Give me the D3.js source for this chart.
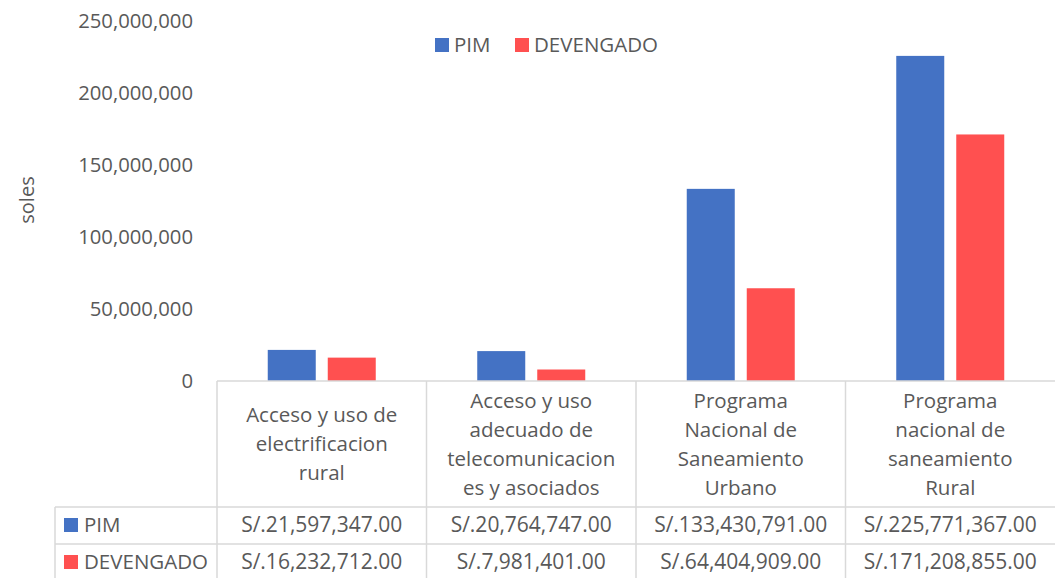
<!DOCTYPE html>
<html lang="es">
<head>
    <meta charset="UTF-8">
    <title>PIM vs DEVENGADO</title>
    <script src="https://d3js.org/d3.v7.min.js"></script>
    <style>
        body { margin: 0; background: #fff; }
        text { font-family: "Open Sans", sans-serif; fill: #595959; }
    </style>
</head>
<body>
    <div id="chart"></div>

    <script>
        const categories = [
            ["Acceso y uso de", "electrificacion", "rural"],
            ["Acceso y uso", "adecuado de", "telecomunicacion", "es y asociados"],
            ["Programa", "Nacional de", "Saneamiento", "Urbano"],
            ["Programa", "nacional de", "saneamiento", "Rural"]
        ];
        const series = ["PIM", "DEVENGADO"];
        const colors = ["#4472c4", "#ff5050"];
        const pim = [21597347, 20764747, 133430791, 225771367];
        const devengado = [16232712, 7981401, 64404909, 171208855];
        const yTicks = [0, 50000000, 100000000, 150000000, 200000000, 250000000];

        const width = 1058, height = 578;
        const left = 217, right = 1055, zeroY = 381;
        const gridColor = "#d9d9d9";

        const svg = d3.select("#chart").append("svg")
            .attr("width", width)
            .attr("height", height);

        const x = d3.scaleBand()
            .domain(d3.range(categories.length))
            .range([left, right]);

        const y = d3.scaleLinear()
            .domain([0, 250000000])
            .range([zeroY, 21]);

        const values = [pim, devengado];

        // y tick labels (no gridlines in the reference)
        svg.append("g")
            .selectAll("text")
            .data(yTicks)
            .enter().append("text")
            .attr("x", 193)
            .attr("y", d => y(d))
            .attr("dy", "0.35em")
            .attr("text-anchor", "end")
            .attr("font-size", 20.3)
            .text(d => d3.format(",")(d));

        svg.append("text")
            .attr("transform", "translate(27,200) rotate(-90)")
            .attr("text-anchor", "middle")
            .attr("dy", "0.35em")
            .attr("font-size", 20)
            .text("soles");

        // bars
        const x1 = d3.scaleBand()
            .domain(series)
            .range([-54, 54])
            .paddingInner(0.2);

        categories.forEach((c, i) => {
            const cx = x(i) + x.bandwidth() / 2;
            svg.append("g")
                .selectAll("rect")
                .data(series)
                .enter().append("rect")
                .attr("x", s => cx + x1(s))
                .attr("y", (s, k) => y(values[k][i]))
                .attr("width", x1.bandwidth())
                .attr("height", (s, k) => zeroY - y(values[k][i]))
                .attr("fill", (s, k) => colors[k]);
        });

        // legend
        const legend = svg.append("g");
        const legendX = [435, 515];
        series.forEach((s, k) => {
            legend.append("rect")
                .attr("x", legendX[k])
                .attr("y", 38)
                .attr("width", 14)
                .attr("height", 14)
                .attr("fill", colors[k]);
            legend.append("text")
                .attr("x", legendX[k] + 19)
                .attr("y", 45)
                .attr("dy", "0.35em")
                .attr("font-size", 20.5)
                .text(s);
        });

        // data table
        const table = svg.append("g")
            .attr("stroke", gridColor)
            .attr("stroke-width", 1.5);

        table.append("line")
            .attr("x1", left).attr("x2", right)
            .attr("y1", zeroY).attr("y2", zeroY);
        [507, 544].forEach(yy => {
            table.append("line")
                .attr("x1", 55).attr("x2", right)
                .attr("y1", yy).attr("y2", yy);
        });
        table.append("line")
            .attr("x1", 55).attr("x2", 55)
            .attr("y1", 507).attr("y2", height);
        d3.range(categories.length).forEach(i => {
            table.append("line")
                .attr("x1", x(i)).attr("x2", x(i))
                .attr("y1", zeroY).attr("y2", height);
        });

        // category headers
        categories.forEach((lines, i) => {
            const cx = x(i) + x.bandwidth() / 2;
            const mid = 444;
            const lh = 29;
            svg.append("g")
                .selectAll("text")
                .data(lines)
                .enter().append("text")
                .attr("x", cx)
                .attr("y", (d, j) => mid + (j - (lines.length - 1) / 2) * lh)
                .attr("dy", "0.35em")
                .attr("text-anchor", "middle")
                .attr("font-size", 20.5)
                .text(d => d);
        });

        // value rows
        const money = v => "S/." + d3.format(",.2f")(v);
        const rowMid = [525, 562];
        series.forEach((s, k) => {
            svg.append("rect")
                .attr("x", 64)
                .attr("y", rowMid[k] - 7)
                .attr("width", 14)
                .attr("height", 14)
                .attr("fill", colors[k]);
            svg.append("text")
                .attr("x", 84)
                .attr("y", rowMid[k])
                .attr("dy", "0.35em")
                .attr("font-size", 20.5)
                .text(s);
            svg.append("g")
                .selectAll("text")
                .data(values[k])
                .enter().append("text")
                .attr("x", (d, i) => x(i) + x.bandwidth() / 2)
                .attr("y", rowMid[k])
                .attr("dy", "0.35em")
                .attr("text-anchor", "middle")
                .attr("font-size", 21)
                .text(d => money(d));
        });
    </script>
</body>
</html>
